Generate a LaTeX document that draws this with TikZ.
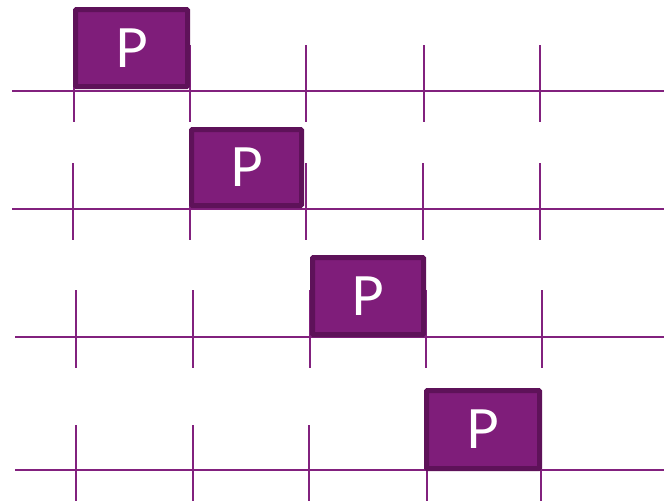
\documentclass[tikz,border=0pt]{standalone}
\usepackage{fontspec}
\setmainfont{Lato}
\definecolor{pfill}{HTML}{7F1D7A}
\definecolor{pedge}{HTML}{5E1259}
\definecolor{pline}{HTML}{82217E}
\tikzset{
  axis/.style={draw=pline, line width=1.8pt},
  pbox/.style={draw=pedge, fill=pfill, line width=5pt, rounded corners=1pt,
    text=white, font=\fontsize{54}{54}\selectfont, inner sep=0pt}
}
\begin{document}
\begin{tikzpicture}[x=1pt,y=-1pt]
\useasboundingbox (0,0) rectangle (664,501);
% row 1
\draw[axis] (12,91) -- (664,91);
\foreach \x in {74,190,306,424,540} \draw[axis] (\x,45) -- (\x,122);
\node[pbox, minimum width=112pt, minimum height=77pt] (p1) at (131.5,48) {P};
% row 2
\draw[axis] (12,209) -- (664,209);
\foreach \x in {73,190,306,423,540} \draw[axis] (\x,163) -- (\x,240);
\node[pbox, minimum width=110pt, minimum height=76pt] (p2) at (246.5,167.5) {P};
% row 3
\draw[axis] (15,337) -- (664,337);
\foreach \x in {76,193,310,426,542} \draw[axis] (\x,290) -- (\x,368);
\node[pbox, minimum width=111pt, minimum height=77pt] (p3) at (368,296) {P};
% row 4
\draw[axis] (15,470) -- (664,470);
\foreach \x in {76,193,309,427,541} \draw[axis] (\x,425) -- (\x,501);
\node[pbox, minimum width=113pt, minimum height=78pt] (p4) at (483,429.5) {P};
\end{tikzpicture}
\end{document}
